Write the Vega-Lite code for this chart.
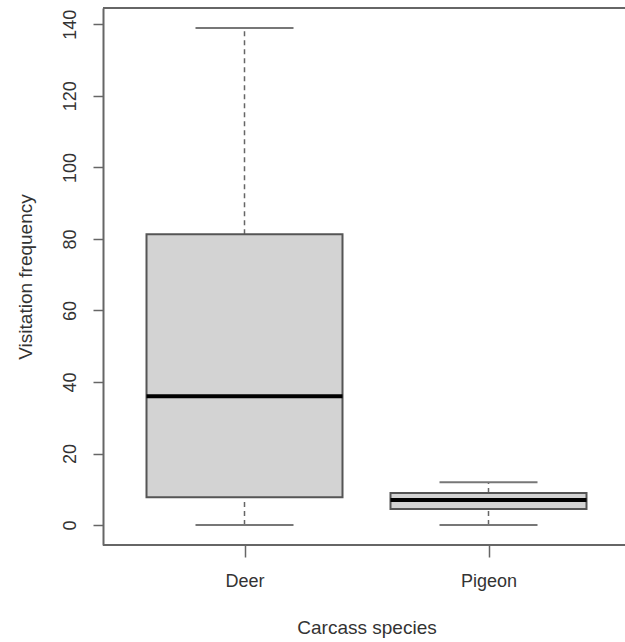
{
  "$schema": "https://vega.github.io/schema/vega-lite/v6.json",
  "width": 522,
  "height": 537,
  "autosize": {"type": "none"},
  "padding": {"left": 103, "top": 8, "right": 0, "bottom": 97},
  "background": "white",
  "config": {
    "view": {"stroke": null},
    "font": "Liberation Sans",
    "axis": {
      "labelFont": "Liberation Sans",
      "titleFont": "Liberation Sans",
      "labelColor": "#333",
      "titleColor": "#333",
      "labelFontSize": 18,
      "titleFontSize": 19,
      "titleFontWeight": "normal",
      "tickColor": "#666",
      "tickWidth": 1.5,
      "grid": false
    }
  },
  "data": {
    "values": [
      {"species": "Deer", "lower": 0, "q1": 7.8, "median": 36, "q3": 81.3, "upper": 139},
      {"species": "Pigeon", "lower": 0, "q1": 4.5, "median": 7, "q3": 9, "upper": 12}
    ]
  },
  "encoding": {
    "x": {
      "field": "species",
      "type": "nominal",
      "scale": {"type": "point", "range": [141.5, 385.5], "padding": 0},
      "axis": {
        "title": "Carcass species",
        "labelAngle": 0,
        "domain": false,
        "tickSize": 12,
        "labelPadding": 15,
        "titlePadding": 28
      }
    }
  },
  "layer": [
    {
      "mark": {"type": "rule", "color": "#666", "strokeWidth": 1.5, "strokeDash": [5, 4]},
      "encoding": {
        "y": {
          "field": "q3",
          "type": "quantitative",
          "scale": {"domain": [-5.56, 144.56], "nice": false, "zero": false},
          "axis": {
            "title": "Visitation frequency",
            "values": [0, 20, 40, 60, 80, 100, 120, 140],
            "labelAngle": -90,
            "labelAlign": "center",
            "labelBaseline": "bottom",
            "tickSize": 10,
            "labelPadding": 14,
            "titlePadding": 26,
            "domain": true,
            "domainColor": "#666",
            "domainWidth": 2
          }
        },
        "y2": {"field": "upper"}
      }
    },
    {
      "mark": {"type": "rule", "color": "#666", "strokeWidth": 1.5, "strokeDash": [5, 4]},
      "encoding": {
        "y": {"field": "lower", "type": "quantitative"},
        "y2": {"field": "q1"}
      }
    },
    {
      "mark": {"type": "bar", "width": 196, "fill": "#d3d3d3", "stroke": "#555", "strokeWidth": 2},
      "encoding": {
        "y": {"field": "q1", "type": "quantitative"},
        "y2": {"field": "q3"}
      }
    },
    {
      "mark": {"type": "tick", "size": 196, "thickness": 4, "color": "#000", "opacity": 1},
      "encoding": {
        "y": {"field": "median", "type": "quantitative"}
      }
    },
    {
      "mark": {"type": "tick", "size": 98, "thickness": 2, "color": "#777", "opacity": 1},
      "encoding": {
        "y": {"field": "upper", "type": "quantitative"}
      }
    },
    {
      "mark": {"type": "tick", "size": 98, "thickness": 2, "color": "#777", "opacity": 1},
      "encoding": {
        "y": {"field": "lower", "type": "quantitative"}
      }
    },
    {
      "mark": {"type": "rule", "color": "#666", "strokeWidth": 2},
      "encoding": {"y": {"datum": 144.56, "type": "quantitative"}, "x": null}
    },
    {
      "mark": {"type": "rule", "color": "#666", "strokeWidth": 2},
      "encoding": {"y": {"datum": -5.56, "type": "quantitative"}, "x": null}
    }
  ]
}
